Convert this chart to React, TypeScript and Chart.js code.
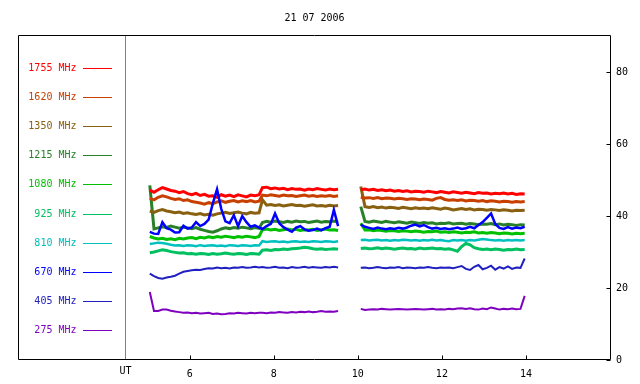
import React, { useEffect, useRef } from "react";
import { Chart, registerables } from "chart.js";

Chart.register(...registerables);

const chartTitle = "21 07 2006";
const axisUnitLabel = "UT";
const xTickValues = [6, 8, 10, 12, 14];
const yTickStep = 20;
const xMin = 4.46;
const xMax = 16;
const yMin = 0;
const yMax = 90;

const seg1Times = [5.05, 5.15, 5.25, 5.35, 5.45, 5.55, 5.65, 5.75, 5.85, 5.95, 6.05, 6.15, 6.25, 6.35, 6.45, 6.55, 6.65, 6.75, 6.85, 6.95, 7.05, 7.15, 7.25, 7.35, 7.45, 7.55, 7.65];
const seg2Times = [7.73, 7.83, 7.93, 8.03, 8.13, 8.23, 8.33, 8.43, 8.53, 8.63, 8.73, 8.83, 8.93, 9.03, 9.13, 9.23, 9.33, 9.43, 9.53];
const gapTime = 9.8;
const seg3Times = [10.07, 10.17, 10.27, 10.37, 10.47, 10.57, 10.67, 10.77, 10.87, 10.97, 11.07, 11.17, 11.27, 11.37, 11.47, 11.57, 11.67, 11.77, 11.87, 11.97, 12.07, 12.17, 12.27, 12.37, 12.47, 12.57, 12.67, 12.77, 12.87, 12.97, 13.07, 13.17, 13.27, 13.37, 13.47, 13.57, 13.67, 13.77, 13.87, 13.97];

const seriesLabels = ["1755 MHz", "1620 MHz", "1350 MHz", "1215 MHz", "1080 MHz", "925 MHz", "810 MHz", "670 MHz", "405 MHz", "275 MHz"];
const seriesColors = ["#ff0000", "#c84000", "#886010", "#288028", "#00c000", "#00c060", "#00c0c0", "#0000ff", "#2020c0", "#8000c0"];
const seriesWidths = [3, 3, 3, 3, 3, 3, 2.5, 2.5, 2, 2];
const seriesOrder = [0, 0, 0, 0, 0, 0, 0, -1, 0, 0];

const mhz1755 = [
  [47.2, 46.6, 47.3, 47.9, 47.5, 47.1, 46.9, 46.5, 46.8, 46.2, 45.9, 46.3, 45.7, 46.0, 45.5, 45.6, 45.2, 45.9, 45.5, 45.8, 45.4, 45.9, 45.6, 45.3, 45.8, 45.6, 45.9],
  [47.9, 48.0, 47.6, 47.8, 47.5, 47.7, 47.3, 47.6, 47.4, 47.5, 47.2, 47.5, 47.3, 47.6, 47.4, 47.2, 47.5, 47.3, 47.4],
  [47.3, 47.5, 47.2, 47.4, 47.1, 47.3, 47.0, 47.2, 46.9, 47.1, 46.8, 47.0, 46.7, 46.9, 46.8, 46.6, 46.9, 46.7, 46.5, 46.8, 46.6, 46.4, 46.7, 46.5, 46.3, 46.6, 46.4, 46.2, 46.5, 46.3, 46.4, 46.1, 46.3, 46.2, 46.4, 46.1, 46.3, 46.0, 46.2, 46.1],
];
const mhz1620 = [
  [44.9, 44.5, 45.2, 45.6, 45.3, 44.9, 44.6, 44.8, 44.3, 44.5, 44.0, 43.8, 43.6, 43.3, 43.7, 43.4, 43.9, 44.2, 43.8, 44.1, 44.3, 43.9, 44.2, 44.0, 44.3, 43.9, 44.1],
  [45.8, 45.6, 45.9, 45.7, 45.5, 45.8, 45.6, 45.7, 45.4, 45.6, 45.8, 45.5, 45.7, 45.4, 45.6, 45.5, 45.7, 45.4, 45.6],
  [45.2, 45.0, 45.1, 44.9, 45.1, 44.8, 45.0, 44.9, 44.7, 44.9, 44.8, 44.6, 44.8, 44.7, 44.5, 44.7, 44.6, 44.4, 44.9, 45.1, 44.6, 44.4, 44.5, 44.3, 44.5, 44.2, 44.4, 44.3, 44.1, 44.3, 44.0, 44.2, 44.1, 43.9, 44.1, 44.0, 43.8, 44.0, 43.9, 44.0],
];
const mhz1350 = [
  [41.4, 41.0, 41.5, 41.8, 41.4, 41.2, 40.9, 41.1, 40.7, 40.9, 40.6, 40.4, 40.7, 40.3, 40.5, 40.2, 40.6, 40.8, 41.0, 40.7, 40.9, 41.1, 40.8, 40.6, 41.0, 40.8, 40.9],
  [44.5, 43.0, 43.2, 42.9, 43.1, 42.8, 43.0, 43.2, 42.9, 43.0, 42.7, 42.9, 43.1, 42.8, 42.9, 42.7, 43.0, 42.8, 42.9],
  [48.2, 42.6, 42.4, 42.6, 42.3, 42.5, 42.2, 42.4, 42.3, 42.1, 42.4, 42.2, 42.0, 42.3, 42.1, 42.2, 42.0, 42.3, 42.1, 41.9, 42.2, 42.0, 41.7, 41.9, 42.1, 41.8, 42.0, 41.7, 41.9, 41.8, 41.6, 41.8, 41.7, 41.5, 41.7, 41.6, 41.4, 41.6, 41.5, 41.6],
];
const mhz1215 = [
  [48.5, 36.4, 36.7, 37.0, 36.8, 37.2, 36.9, 36.6, 36.9, 36.7, 36.5, 36.8, 36.3, 36.0, 35.7, 35.5, 35.9, 36.4, 36.7, 36.5, 36.8, 36.6, 36.9, 36.7, 36.5, 36.8, 36.6],
  [38.2, 38.5, 38.3, 38.6, 38.4, 38.2, 38.5, 38.3, 38.6, 38.4, 38.5, 38.2, 38.4, 38.6, 38.3, 38.5, 38.4, 38.6, 38.3],
  [42.6, 38.5, 38.3, 38.6, 38.4, 38.2, 38.5, 38.3, 38.1, 38.4, 38.2, 38.0, 38.3, 38.1, 37.9, 38.2, 38.0, 38.1, 37.8, 38.0, 37.9, 38.1, 37.8, 37.9, 38.0, 37.7, 37.9, 37.8, 37.6, 37.8, 37.7, 37.9, 37.6, 37.8, 37.5, 37.7, 37.6, 37.4, 37.6, 37.5],
];
const mhz1080 = [
  [34.3, 33.9, 33.6, 33.8, 33.5, 33.7, 33.4, 33.8, 33.6, 33.9, 34.0, 33.7, 34.1, 33.9, 34.2, 34.0, 34.3, 34.1, 34.4, 34.2, 34.0, 34.3, 34.1, 34.4, 34.2, 34.0, 34.3],
  [36.2, 36.4, 36.1, 36.3, 36.0, 36.2, 36.4, 36.1, 36.3, 36.0, 36.2, 36.1, 36.3, 36.0, 36.2, 36.4, 36.1, 36.2, 36.0],
  [38.0, 36.1, 36.2, 35.9, 36.1, 36.0, 35.8, 36.0, 35.9, 35.7, 35.9, 35.8, 35.6, 35.8, 35.7, 35.5, 35.7, 35.6, 35.8, 35.5, 35.6, 35.4, 35.6, 35.5, 35.3, 35.5, 35.4, 35.6, 35.3, 35.4, 35.2, 35.4, 35.3, 35.1, 35.3, 35.2, 35.0, 35.2, 35.1, 35.2],
];
const mhz925 = [
  [29.8, 30.0, 30.3, 30.6, 30.4, 30.1, 29.9, 29.7, 29.8, 29.5, 29.6, 29.4, 29.6, 29.5, 29.3, 29.6, 29.4, 29.5, 29.7, 29.5, 29.4, 29.6, 29.5, 29.3, 29.6, 29.5, 29.4],
  [30.5, 30.6, 30.4, 30.7, 30.6, 30.8, 30.7, 30.9, 31.0, 31.1, 31.3, 31.2, 30.9, 30.8, 30.9, 30.7, 30.8, 30.9, 30.8],
  [31.0, 31.1, 30.9, 31.0, 31.2, 30.9, 31.1, 31.0, 30.8, 31.0, 31.1, 30.9, 31.0, 30.8, 31.1, 30.9, 31.0, 31.1, 30.9, 31.0, 30.8, 30.9, 30.6, 30.2, 31.5, 32.4, 32.0, 31.2, 30.9, 30.7, 30.8, 30.6, 30.8, 30.7, 30.5, 30.7, 30.6, 30.8, 30.6, 30.7],
];
const mhz810 = [
  [32.2, 32.4, 32.6, 32.5, 32.3, 32.0, 31.8, 31.9, 31.7, 31.9, 31.8, 31.6, 31.9, 31.7, 31.8, 31.9, 31.7, 31.8, 31.6, 31.9, 31.8, 31.7, 31.9, 31.8, 31.7, 31.9, 31.8],
  [33.0, 32.8, 32.9, 33.0, 32.8, 32.9, 32.7, 32.9, 33.0, 32.8, 32.9, 32.8, 33.0, 32.9, 32.8, 33.0, 32.9, 32.8, 33.0],
  [33.3, 33.4, 33.2, 33.3, 33.4, 33.2, 33.3, 33.1, 33.3, 33.2, 33.4, 33.3, 33.2, 33.3, 33.1, 33.3, 33.2, 33.4, 33.2, 33.3, 33.1, 33.0, 33.3, 33.2, 33.3, 33.1, 33.3, 33.2, 33.4, 33.6, 33.5, 33.3, 33.2, 33.3, 33.1, 33.3, 33.2, 33.3, 33.2, 33.3],
];
const mhz670 = [
  [35.6, 35.1, 35.0, 38.3, 36.6, 36.2, 35.4, 35.5, 37.3, 36.5, 36.8, 38.3, 37.2, 37.8, 39.0, 43.5, 47.4, 42.0, 38.5, 38.0, 40.2, 37.2, 40.0, 38.3, 37.0, 37.4, 36.8],
  [36.4, 37.2, 37.8, 40.7, 38.0, 36.9, 36.2, 35.6, 36.8, 37.2, 36.3, 35.9, 36.1, 36.5, 36.0, 36.6, 37.0, 41.7, 37.2],
  [37.6, 37.0, 36.7, 36.4, 36.8, 36.5, 36.3, 36.6, 36.4, 36.7, 36.5, 36.8, 37.3, 37.6, 37.1, 37.5, 36.9, 36.5, 36.7, 36.4, 36.6, 36.3, 36.5, 36.8, 36.4, 36.6, 37.0, 36.6, 37.5, 38.3, 39.5, 40.7, 37.8, 36.7, 36.4, 36.9, 36.5, 36.8, 36.6, 37.0],
];
const mhz405 = [
  [24.0, 23.3, 22.8, 22.6, 22.9, 23.1, 23.4, 24.0, 24.5, 24.7, 24.9, 25.1, 25.0, 25.3, 25.5, 25.4, 25.7, 25.5, 25.6, 25.4, 25.7, 25.6, 25.8, 25.6, 25.7, 25.9, 25.7],
  [25.8, 25.6, 25.7, 25.9, 25.6, 25.7, 25.5, 25.8, 25.6, 25.7, 25.9, 25.6, 25.8, 25.7, 25.6, 25.8, 25.7, 25.9, 25.7],
  [25.6, 25.7, 25.5, 25.6, 25.8, 25.6, 25.5, 25.7, 25.6, 25.8, 25.5, 25.7, 25.6, 25.5, 25.7, 25.6, 25.8, 25.6, 25.5, 25.7, 25.6, 25.7, 25.5, 25.8, 26.1, 25.3, 25.0, 25.9, 26.4, 25.2, 25.6, 26.2, 25.1, 25.8, 25.4, 26.0, 25.3, 25.7, 25.6, 28.2],
];
const mhz275 = [
  [18.9, 13.6, 13.6, 14.0, 14.0, 13.7, 13.5, 13.3, 13.1, 13.2, 13.0, 13.1, 12.9, 13.0, 13.1, 12.8, 12.9, 12.7, 12.8, 13.0, 12.9, 13.1, 13.0, 12.9, 13.1, 13.0, 13.1],
  [13.1, 13.0, 13.2, 13.1, 13.3, 13.2, 13.1, 13.3, 13.2, 13.4, 13.3, 13.5, 13.3, 13.4, 13.6, 13.4, 13.5, 13.4, 13.6],
  [14.2, 13.9, 14.0, 14.1, 14.0, 14.2, 14.1, 14.0, 14.1, 14.2, 14.1, 14.0, 14.1, 14.2, 14.1, 14.0, 14.1, 14.2, 14.0, 14.1, 14.0, 14.2, 14.1, 14.3, 14.4, 14.2, 14.4, 14.1, 14.0, 14.3, 14.1, 14.6, 14.3, 14.0, 14.2, 14.1, 14.3, 14.1, 14.2, 17.8],
];

const seriesValues = [mhz1755, mhz1620, mhz1350, mhz1215, mhz1080, mhz925, mhz810, mhz670, mhz405, mhz275];

const FONT_FAMILY = "'DejaVu Sans Mono', monospace";
const FONT = "10px " + FONT_FAMILY;

function buildPoints(segs: number[][]) {
  const pts: { x: number; y: number | null }[] = [];
  seg1Times.forEach((t, i) => pts.push({ x: t, y: segs[0][i] ?? null }));
  seg2Times.forEach((t, i) => pts.push({ x: t, y: segs[1][i] ?? null }));
  pts.push({ x: gapTime, y: null });
  seg3Times.forEach((t, i) => pts.push({ x: t, y: segs[2][i] ?? null }));
  return pts;
}

const FRAME_LEFT = 18.5;

const framePlugin = {
  id: "rsFrame",
  afterDraw(chart: any) {
    const ctx: CanvasRenderingContext2D = chart.ctx;
    const area = chart.chartArea;
    const xs = chart.scales.x;
    const ys = chart.scales.y;
    const L = FRAME_LEFT;
    const R = Math.round(area.right) + 0.5;
    const T = Math.round(area.top) - 0.5;
    const B = Math.round(area.bottom) - 0.5;
    const innerX = Math.round(area.left) + 0.5;
    ctx.save();
    ctx.font = FONT;
    ctx.fillStyle = "#000";
    ctx.textAlign = "center";
    ctx.textBaseline = "middle";
    ctx.fillText(chartTitle, (L + R) / 2, 18);
    ctx.strokeStyle = "#808080";
    ctx.lineWidth = 1;
    ctx.beginPath();
    ctx.moveTo(innerX, T);
    ctx.lineTo(innerX, B);
    ctx.stroke();
    ctx.strokeStyle = "#000";
    ctx.beginPath();
    ctx.moveTo(L, T);
    ctx.lineTo(R, T);
    ctx.lineTo(R, B);
    ctx.lineTo(L, B);
    ctx.closePath();
    ctx.stroke();
    ctx.beginPath();
    xTickValues.forEach((v) => {
      const x = Math.round(xs.getPixelForValue(v)) + 0.5;
      ctx.moveTo(x, B);
      ctx.lineTo(x, B - 4);
    });
    for (let v = yMin; v < yMax; v += yTickStep) {
      const y = Math.round(ys.getPixelForValue(v)) + 0.5;
      ctx.moveTo(R, y);
      ctx.lineTo(R - 4, y);
    }
    ctx.stroke();
    ctx.fillStyle = "#000";
    ctx.textAlign = "center";
    ctx.textBaseline = "middle";
    ctx.fillText(axisUnitLabel, innerX, 371);
    seriesLabels.forEach((lab, i) => {
      const y = Math.round(67.5 + i * 29.2);
      ctx.fillStyle = seriesColors[i];
      ctx.textAlign = "right";
      ctx.textBaseline = "middle";
      ctx.fillText(lab, 76.5, y + 0.5);
      ctx.strokeStyle = seriesColors[i];
      ctx.beginPath();
      ctx.moveTo(83, y + 0.5);
      ctx.lineTo(112, y + 0.5);
      ctx.stroke();
    });
    ctx.restore();
  },
};

export default function App() {
  const canvasRef = useRef<HTMLCanvasElement | null>(null);

  useEffect(() => {
    const canvas = canvasRef.current;
    if (!canvas) return;
    const datasets = seriesLabels.map((lab, i) => ({
      label: lab,
      data: buildPoints(seriesValues[i]),
      borderColor: seriesColors[i],
      backgroundColor: seriesColors[i],
      borderWidth: seriesWidths[i],
      order: seriesOrder[i],
      pointRadius: 0,
      tension: 0,
      spanGaps: false,
      fill: false,
    }));
    const chart = new Chart(canvas, {
      type: "line",
      data: { datasets },
      options: {
        responsive: false,
        animation: false,
        events: [],
        layout: { padding: { left: 125, top: 36, right: 0, bottom: 0 } },
        plugins: {
          legend: { display: false },
          tooltip: { enabled: false },
          title: { display: false },
        },
        scales: {
          x: {
            type: "linear",
            position: "bottom",
            min: xMin,
            max: xMax,
            grid: { display: false, drawTicks: false },
            border: { display: false },
            afterBuildTicks: (scale: any) => {
              scale.ticks = xTickValues.map((v) => ({ value: v }));
            },
            afterFit: (scale: any) => {
              scale.height = 24;
            },
            ticks: {
              color: "#000",
              font: { family: FONT_FAMILY, size: 10 },
              padding: 8,
              maxRotation: 0,
              autoSkip: false,
              callback: (v: any) => String(v),
            },
          },
          y: {
            type: "linear",
            position: "right",
            min: yMin,
            max: yMax,
            grid: { display: false, drawTicks: false },
            border: { display: false },
            afterFit: (scale: any) => {
              scale.width = 30;
            },
            ticks: {
              stepSize: yTickStep,
              color: "#000",
              font: { family: FONT_FAMILY, size: 10 },
              padding: 6,
              callback: (v: any) => (Number(v) % yTickStep === 0 && Number(v) < yMax ? String(v) : null),
            },
          },
        },
      },
      plugins: [framePlugin],
    });
    return () => chart.destroy();
  }, []);

  return (
    <div style={{ position: "absolute", left: 0, top: 0, width: 640, height: 384, background: "#fff" }}>
      <canvas ref={canvasRef} width={640} height={384} style={{ display: "block", width: 640, height: 384 }} />
    </div>
  );
}
